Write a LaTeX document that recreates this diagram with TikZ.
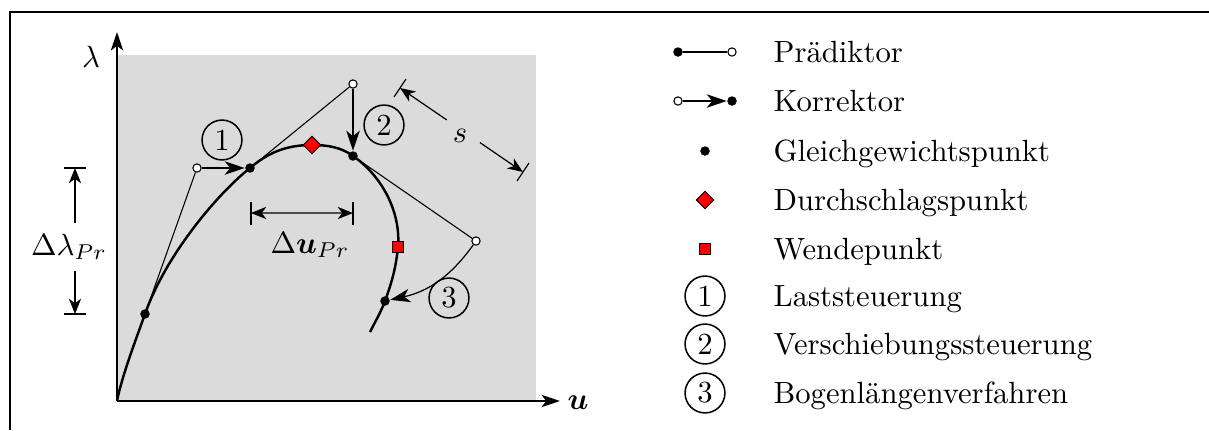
\documentclass[tikz,border=0pt]{standalone}
\usepackage{fontspec}
\usepackage{amsmath}
\usetikzlibrary{calc, arrows.meta, shapes.geometric}

\tikzset{
  gg/.style={circle, fill=black, inner sep=0pt, minimum size=3.1pt},
  pr/.style={circle, draw=black, fill=white, line width=0.35pt, inner sep=0pt, minimum size=2.7pt},
  ds/.style={diamond, draw=black, fill=red, line width=0.3pt, inner sep=0pt, minimum size=5.8pt},
  wp/.style={rectangle, draw=black, fill=red, line width=0.3pt, inner sep=0pt, minimum size=3.7pt},
  nr/.style={circle, draw=black, line width=0.5pt, inner sep=0.5pt, minimum size=13pt},
  korr/.style={-{Stealth[length=6.5pt, width=4.4pt, inset=1.8pt]}, line width=0.4pt},
  pfeil/.style={-{Stealth[length=5pt, width=4pt, inset=1.5pt]}, line width=0.4pt},
  achse/.style={-{Stealth[length=6pt, width=4pt, inset=1.5pt]}, line width=0.75pt},
}

\begin{document}
\begin{tikzpicture}[x=0.326pt, y=-0.326pt]
  \useasboundingbox (0,0) rectangle (1209,430);

  % --- Rahmen ---
  \draw[line width=0.6pt] (10,430) -- (10,12) -- (1209,12);

  % --- Diagrammflaeche ---
  \fill[black!14] (117,55) rectangle (536,401);

  % --- Achsen ---
  \coordinate (O) at (117,401);
  \draw[achse] (O) -- (117,32) coordinate (ytip);
  \draw[achse] (O) -- (560,401) coordinate (xtip);
  \node (lam) at (91,57) {$\lambda$};
  \node (uax) at (578,403) {$\boldsymbol{u}$};

  % --- Punkte auf dem Lastpfad ---
  \coordinate (k1) at (145,314);
  \coordinate (k2) at (250,168);
  \coordinate (kd) at (312,145);   % Durchschlagspunkt
  \coordinate (k3) at (353,156);
  \coordinate (kw) at (398,247);   % Wendepunkt
  \coordinate (k4) at (385,301);
  \coordinate (kend) at (370,332);

  % --- Lastpfad ---
  \draw[line width=0.8pt] (O) .. controls (122,376) and (135,342) .. (k1)
    .. controls (165,257) and (215,196) .. (k2)
    .. controls (269,152) and (287,145) .. (kd)
    .. controls (327,145) and (341,147) .. (k3)
    .. controls (382,176) and (401,212) .. (kw)
    .. controls (396,267) and (392,282) .. (k4)
    .. controls (381,312) and (375,322) .. (kend);

  % --- Gleichgewichtspunkte, Praediktorpunkte ---
  \node[gg] (g1) at (k1) {};
  \node[gg] (g2) at (k2) {};
  \node[gg] (g3) at (k3) {};
  \node[gg] (g4) at (k4) {};
  \node[pr] (p1) at (197,168) {};
  \node[pr] (p2) at (353,84) {};
  \node[pr] (p3) at (476,241) {};
  \node[ds] (dp) at (kd) {};
  \node[wp] (wp) at (kw) {};

  % --- Praediktor ---
  \draw[line width=0.35pt] (g1) -- (p1);
  \draw[line width=0.35pt] (g2) -- (p2);
  \draw[line width=0.35pt] (g3) -- (p3);

  % --- Korrektor ---
  \draw[korr] (p1) -- (g2);
  \draw[korr] (p2) -- (g3);
  \draw[korr] (p3) to[bend left=21] (g4);

  % --- Verfahren ---
  \node[nr] (n1) at (222,140) {1};
  \node[nr] (n2) at (384,125) {2};
  \node[nr] (n3) at (449,298) {3};

  % --- Bemassung Delta u ---
  \coordinate (du1) at (251,213);
  \coordinate (du2) at (353,213);
  \draw[line width=0.4pt] ($(du1)+(0,-11)$) -- ($(du1)+(0,12)$);
  \draw[line width=0.4pt] ($(du2)+(0,-11)$) -- ($(du2)+(0,12)$);
  \draw[pfeil] ($(du1)!0.5!(du2)$) -- (du1);
  \draw[pfeil] ($(du1)!0.5!(du2)$) -- (du2);
  \node (dulab) at (310,245) {$\Delta\boldsymbol{u}_{Pr}$};

  % --- Bemassung Delta lambda ---
  \coordinate (dl1) at (75,168);
  \coordinate (dl2) at (75,314);
  \draw[line width=0.4pt] ($(dl1)+(-11,0)$) -- ($(dl1)+(11,0)$);
  \draw[line width=0.4pt] ($(dl2)+(-11,0)$) -- ($(dl2)+(11,0)$);
  \node (dllab) at (69,247) {$\Delta\lambda_{Pr}$};
  \draw[pfeil] (dllab.north -| dl1) -- (dl1);
  \draw[pfeil] (dllab.south -| dl2) -- (dl2);

  % --- Bogenlaenge s ---
  \coordinate (s1) at (400,88);
  \coordinate (s2) at (523,172);
  \draw[line width=0.4pt] ($(s1)+(-6,9)$) -- ($(s1)+(6,-9)$);
  \draw[line width=0.4pt] ($(s2)+(-6,9)$) -- ($(s2)+(6,-9)$);
  \draw[pfeil] ($(s1)!0.38!(s2)$) -- (s1);
  \draw[pfeil] ($(s1)!0.65!(s2)$) -- (s2);
  \node (slab) at (460,136) {$s$};

  % --- Legende ---
  \node[gg] (l1a) at (678,52) {};
  \node[pr] (l1b) at (732,52) {};
  \draw[line width=0.35pt] (l1a) -- (l1b);
  \node[pr] (l2a) at (678,101) {};
  \node[gg] (l2b) at (732,101) {};
  \draw[korr] (l2a) -- (l2b);
  \node[gg] (l3) at (705,151) {};
  \node[ds] (l4) at (705,200) {};
  \node[wp] (l5) at (705,249) {};
  \node[nr] (l6) at (705,296) {1};
  \node[nr] (l7) at (705,344) {2};
  \node[nr] (l8) at (705,393) {3};
  \foreach \ty/\txt [count=\i] in {52/Prädiktor, 101/Korrektor,
      151/Gleichgewichtspunkt, 200/Durchschlagspunkt, 249/Wendepunkt,
      296/Laststeuerung, 344/Verschiebungssteuerung, 393/Bogenlängenverfahren}
    \node[anchor=base west, inner sep=0pt] (t\i) at (773,\ty+10) {\txt};

\end{tikzpicture}
\end{document}
